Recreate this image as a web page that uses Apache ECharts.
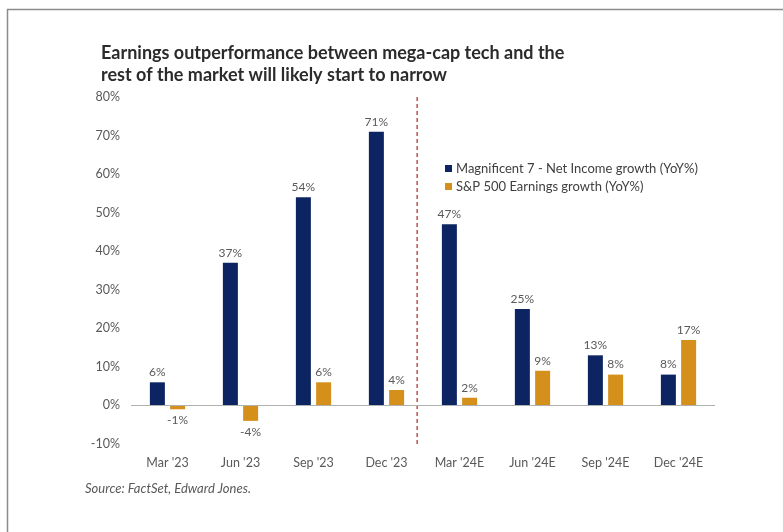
<!DOCTYPE html>
<html>
<head>
<meta charset="utf-8">
<script src="https://cdn.jsdelivr.net/npm/echarts@6/dist/echarts.min.js"></script>
<style>
  html, body { margin: 0; padding: 0; background: #ffffff; }
  #chart { width: 783px; height: 532px; }
</style>
</head>
<body>
<div id="chart"></div>
<script>
// Quarterly YoY earnings growth, %
const categories = ["Mar '23", "Jun '23", "Sep '23", "Dec '23", "Mar '24E", "Jun '24E", "Sep '24E", "Dec '24E"];
const mag7Growth = [6, 37, 54, 71, 47, 25, 13, 8];
const sp500Growth = [-1, -4, 6, 4, 2, 9, 8, 17];
const yTicks = [-10, 0, 10, 20, 30, 40, 50, 60, 70, 80];
const seriesNames = ['Magnificent 7 - Net Income growth (YoY%)', 'S&P 500 Earnings growth (YoY%)'];
// Dashed divider between reported and estimated quarters (in category-index units)
const forecastDivider = 3.42;

const NAVY = '#0c2461';
const GOLD = '#d4901a';
const TEXT = '#595959';
const FONT = 'Lato, "Open Sans", sans-serif';

const chart = echarts.init(document.getElementById('chart'), null, { renderer: 'canvas' });

const barLabel = {
  show: true,
  position: 'top',
  distance: 4,
  color: TEXT,
  fontFamily: FONT,
  fontSize: 12,
  formatter: p => Math.round(p.value) + '%'
};

function pointLabels(values) {
  return values.map(v => ({
    value: v,
    label: v < 0 ? { position: 'bottom', distance: 5 } : {}
  }));
}

chart.setOption({
  animation: false,
  backgroundColor: '#ffffff',
  textStyle: { fontFamily: FONT },
  title: {
    text: 'Earnings outperformance between mega-cap tech and the\nrest of the market will likely start to narrow',
    left: 96,
    top: 37,
    textStyle: {
      fontFamily: FONT,
      fontWeight: 'bold',
      fontSize: 18,
      lineHeight: 22,
      color: '#2b2b2b'
    }
  },
  legend: {
    orient: 'vertical',
    left: 440,
    top: 157,
    itemWidth: 7,
    itemHeight: 7,
    itemGap: 5,
    icon: 'rect',
    data: seriesNames,
    textStyle: { color: '#404040', fontSize: 13, fontFamily: FONT, padding: [0, 0, 0, -1] }
  },
  grid: {
    left: 131,
    right: 68,
    top: 97,
    bottom: 88,
    containLabel: false
  },
  xAxis: [
    {
      type: 'category',
      data: categories,
      axisLine: { show: false, onZero: false },
      axisTick: { show: false },
      axisLabel: { color: TEXT, fontSize: 12.5, fontFamily: FONT, margin: 12 },
      splitLine: { show: false }
    },
    {
      // Hidden linear axis aligned with the category bands, used for the divider line
      type: 'value',
      min: -0.5,
      max: categories.length - 0.5,
      show: false
    }
  ],
  yAxis: {
    type: 'value',
    min: yTicks[0],
    max: yTicks[yTicks.length - 1],
    interval: 10,
    axisLine: { show: false },
    axisTick: { show: false },
    splitLine: { show: false },
    axisLabel: {
      color: TEXT,
      fontSize: 12.5,
      fontFamily: FONT,
      margin: 11,
      formatter: v => v + '%'
    }
  },
  series: [
    {
      name: seriesNames[0],
      type: 'bar',
      data: pointLabels(mag7Growth),
      barWidth: 15,
      barGap: '35%',
      itemStyle: { color: NAVY },
      label: barLabel,
      markLine: {
        silent: true,
        symbol: 'none',
        label: { show: false },
        lineStyle: { color: '#b0b0b0', width: 1, type: 'solid' },
        data: [{ yAxis: 0 }]
      }
    },
    {
      name: seriesNames[1],
      type: 'bar',
      data: pointLabels(sp500Growth),
      barWidth: 15,
      itemStyle: { color: GOLD },
      label: barLabel
    },
    {
      name: 'divider',
      type: 'line',
      xAxisIndex: 1,
      silent: true,
      symbol: 'none',
      data: [[forecastDivider, yTicks[0]], [forecastDivider, yTicks[yTicks.length - 1]]],
      lineStyle: { color: '#c0504d', width: 1.5, type: [4, 3] }
    }
  ],
  graphic: [
    {
      type: 'text',
      left: 85,
      top: 482,
      style: {
        text: 'Source: FactSet, Edward Jones.',
        fill: '#595959',
        fontSize: 13,
        fontStyle: 'italic',
        fontFamily: FONT
      }
    },
    {
      type: 'rect',
      shape: { x: 7.5, y: 9.5, width: 790, height: 540 },
      style: { fill: 'none', stroke: '#8c8c8c', lineWidth: 1.5 },
      silent: true
    }
  ]
});
</script>
</body>
</html>
